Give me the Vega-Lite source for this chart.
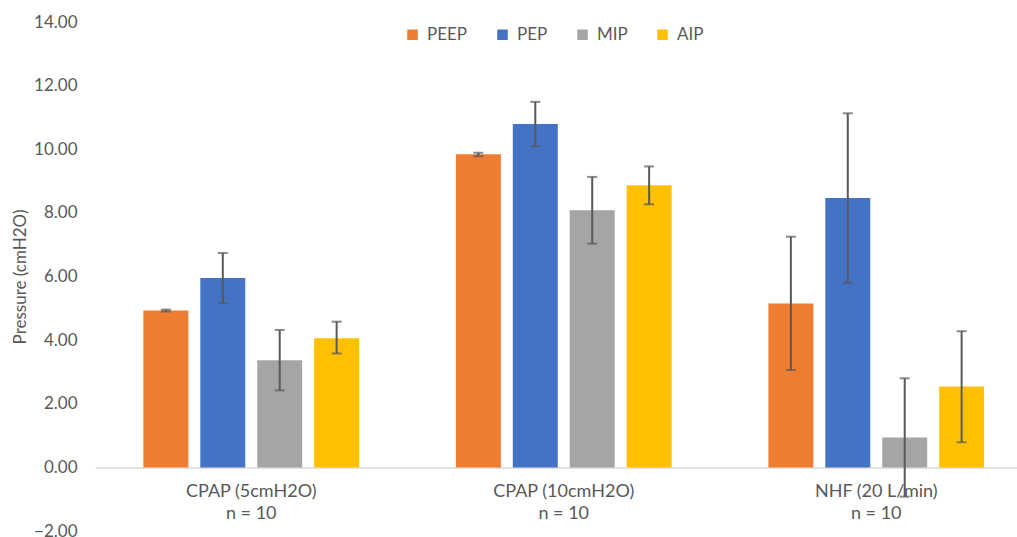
{
  "$schema": "https://vega.github.io/schema/vega-lite/v6.json",
  "autosize": "none",
  "width": 922,
  "height": 509,
  "padding": {"left": 95, "top": 22, "right": 0, "bottom": 6},
  "background": "white",
  "config": {"view": {"stroke": null}, "font": "Lato"},
  "data": {
    "values": [
      {"setting": "CPAP (5cmH2O)", "measure": "PEEP", "mean": 4.93, "lo": 4.90, "hi": 4.96},
      {"setting": "CPAP (5cmH2O)", "measure": "PEP", "mean": 5.95, "lo": 5.16, "hi": 6.74},
      {"setting": "CPAP (5cmH2O)", "measure": "MIP", "mean": 3.37, "lo": 2.42, "hi": 4.32},
      {"setting": "CPAP (5cmH2O)", "measure": "AIP", "mean": 4.06, "lo": 3.58, "hi": 4.58},
      {"setting": "CPAP (10cmH2O)", "measure": "PEEP", "mean": 9.84, "lo": 9.78, "hi": 9.89},
      {"setting": "CPAP (10cmH2O)", "measure": "PEP", "mean": 10.79, "lo": 10.09, "hi": 11.49},
      {"setting": "CPAP (10cmH2O)", "measure": "MIP", "mean": 8.08, "lo": 7.03, "hi": 9.13},
      {"setting": "CPAP (10cmH2O)", "measure": "AIP", "mean": 8.87, "lo": 8.27, "hi": 9.46},
      {"setting": "NHF (20 L/min)", "measure": "PEEP", "mean": 5.15, "lo": 3.06, "hi": 7.25},
      {"setting": "NHF (20 L/min)", "measure": "PEP", "mean": 8.47, "lo": 5.80, "hi": 11.13},
      {"setting": "NHF (20 L/min)", "measure": "MIP", "mean": 0.94, "lo": -0.92, "hi": 2.80},
      {"setting": "NHF (20 L/min)", "measure": "AIP", "mean": 2.54, "lo": 0.79, "hi": 4.28}
    ]
  },
  "encoding": {
    "x": {
      "field": "setting",
      "type": "nominal",
      "sort": ["CPAP (5cmH2O)", "CPAP (10cmH2O)", "NHF (20 L/min)"],
      "scale": {"range": [0, 937.5], "paddingInner": 0, "paddingOuter": 0},
      "axis": {
        "title": null,
        "orient": "bottom",
        "offset": -63.6,
        "domainColor": "#d9d9d9",
        "domainWidth": 1.5,
        "ticks": false,
        "labelAngle": 0,
        "labelFontSize": 18,
        "labelColor": "#595959",
        "labelExpr": "[datum.label, 'n = 10']",
        "labelLineHeight": 22,
        "labelPadding": 15
      }
    },
    "xOffset": {
      "field": "measure",
      "type": "nominal",
      "sort": ["PEEP", "PEP", "MIP", "AIP"],
      "scale": {"paddingInner": 0.21, "paddingOuter": 0.85}
    }
  },
  "layer": [
    {
      "mark": {"type": "bar"},
      "encoding": {
        "y": {
          "field": "mean",
          "type": "quantitative",
          "scale": {"domain": [-2, 14], "nice": false, "zero": false},
          "axis": {
            "title": "Pressure (cmH2O)",
            "values": [-2, 0, 2, 4, 6, 8, 10, 12, 14],
            "format": ".2f",
            "domain": false,
            "ticks": false,
            "grid": false,
            "labelFontSize": 17,
            "labelColor": "#595959",
            "labelPadding": 18,
            "titleFontSize": 17,
            "titleFontWeight": "normal",
            "titleColor": "#595959",
            "titlePadding": 4
          }
        },
        "color": {
          "field": "measure",
          "type": "nominal",
          "sort": ["PEEP", "PEP", "MIP", "AIP"],
          "scale": {"domain": ["PEEP", "PEP", "MIP", "AIP"], "range": ["#ED7D31", "#4472C4", "#A5A5A5", "#FFC000"]},
          "legend": {
            "orient": "none",
            "legendX": 309,
            "legendY": 4,
            "direction": "horizontal",
            "title": null,
            "symbolType": "square",
            "symbolSize": 110,
            "symbolStrokeWidth": 0,
            "labelFontSize": 17,
            "labelColor": "#595959",
            "labelOffset": 6,
            "columnPadding": 26
          }
        }
      }
    },
    {
      "mark": {"type": "rule", "color": "#595959", "strokeWidth": 2},
      "encoding": {
        "y": {"field": "lo", "type": "quantitative"},
        "y2": {"field": "hi"}
      }
    },
    {
      "mark": {"type": "tick", "color": "#595959", "size": 10, "thickness": 2},
      "encoding": {"y": {"field": "lo", "type": "quantitative"}}
    },
    {
      "mark": {"type": "tick", "color": "#595959", "size": 10, "thickness": 2},
      "encoding": {"y": {"field": "hi", "type": "quantitative"}}
    }
  ]
}
